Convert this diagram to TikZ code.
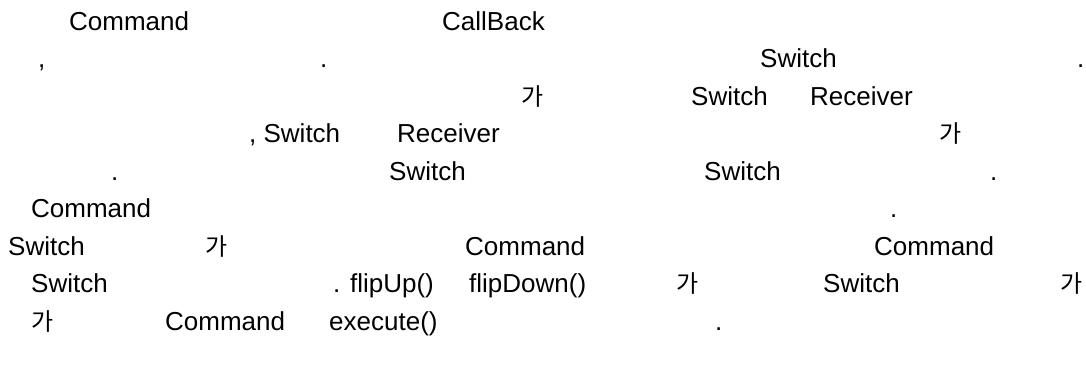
\documentclass[tikz,border=0pt]{standalone}
\usepackage{fontspec}
\setmainfont{Liberation Sans}
\newfontfamily\kofont{Noto Sans CJK KR}

\begin{document}
\begin{tikzpicture}[x=1pt,y=-1pt,
  frag/.style={anchor=base west,inner sep=0pt,font=\fontsize{26}{30}\selectfont},
  kor/.style={frag,font=\fontsize{24}{30}\selectfont\kofont}]
\useasboundingbox (0,0) rectangle (1086,364);
% 남은 라틴 글자 조각: x / 줄 / 글자
\foreach \x/\ln/\txt [count=\i] in {
  69/1/Command, 442/1/CallBack,
  38/2/{,}, 320/2/., 760/2/Switch, 1077/2/.,
  691/3/Switch, 810/3/Receiver,
  249/4/{, Switch}, 397/4/Receiver,
  111/5/., 389/5/Switch, 704/5/Switch, 990/5/.,
  31/6/Command, 890/6/.,
  8/7/Switch, 465/7/Command, 874/7/Command,
  31/8/Switch, 333/8/{. flipUp()}, 469/8/flipDown(), 823/8/Switch,
  165/9/Command, 329/9/execute(), 715/9/.}
  \node[frag] (w\i) at (\x,{30+37.5*(\ln-1)}) {\txt};
% 조사 '가'
\foreach \x/\ln [count=\i] in {521/3, 939/4, 205/7, 676/8, 1060/8, 31/9}
  \node[kor] (ga\i) at (\x,{30+37.5*(\ln-1)}) {가};
\end{tikzpicture}
\end{document}
